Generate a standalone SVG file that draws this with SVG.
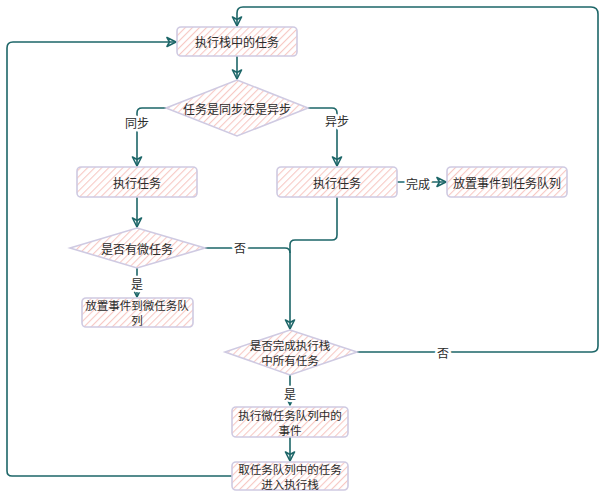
<svg xmlns="http://www.w3.org/2000/svg" width="606" height="493" viewBox="0 0 606 493">
<defs>
<pattern id="hatch" patternUnits="userSpaceOnUse" width="5" height="5" patternTransform="rotate(45)">
<rect width="5" height="5" fill="#ffffff"/>
<line x1="0" y1="0" x2="0" y2="5" stroke="#f7c9c4" stroke-width="2.2"/>
</pattern>
<marker id="arr" viewBox="0 0 12 12" refX="10" refY="6" markerWidth="12" markerHeight="12" markerUnits="userSpaceOnUse" orient="auto">
<path d="M1,1.5 L10,6 L1,10.5 L3.5,6 Z" fill="none" stroke="#1d6668" stroke-width="1.6" stroke-linejoin="round"/>
</marker>
<style>
.box{fill:url(#hatch);stroke:#cfcae2;stroke-width:1.6}
.t{font-family:"Noto Sans CJK SC","Noto Sans",sans-serif;font-size:12px;fill:#2b2b2b;text-anchor:middle;dominant-baseline:central}
.m{font-size:11.5px}
.c{fill:none;stroke:#1d6668;stroke-width:1.6}
.a{marker-end:url(#arr)}
.lbl{font-family:"Noto Sans CJK SC","Noto Sans",sans-serif;font-size:12px;fill:#2b2b2b;text-anchor:middle;dominant-baseline:central;stroke:#ffffff;stroke-width:5;paint-order:stroke;stroke-linejoin:round}
</style>
</defs>
<g id="connectors">
<path class="c a" d="M237,56 L237,79"/>
<path class="c a" d="M166,108 L142,108 Q137,108 137,113 L137,166"/>
<path class="c a" d="M308,108 L332,108 Q337,108 337,113 L337,166"/>
<path class="c a" d="M397,182 L446,182"/>
<path class="c a" d="M137,197 L137,227"/>
<path class="c a" d="M137,268 L137,297"/>
<path class="c a" d="M205,248 L285,248 Q290,248 290,253 L290,329"/>
<path class="c" d="M337,197 L337,235 Q337,240 332,240 L295,240 Q290,240 290,245 L290,253"/>
<path class="c a" d="M290,375 L290,405"/>
<path class="c a" d="M290,437 L290,461"/>
<path class="c a" d="M232,476 L12,476 Q7,476 7,471 L7,48 Q7,42 13,42 L176,42"/>
<path class="c a" d="M357,352 L592,352 Q598,352 598,346 L598,14 Q598,7 591,7 L243,7 Q237,7 237,13 L237,26"/>
<text class="lbl" x="137" y="122">同步</text>
<text class="lbl" x="337" y="120">异步</text>
<text class="lbl" x="418" y="183">完成</text>
<text class="lbl" x="137" y="283">是</text>
<text class="lbl" x="240" y="247">否</text>
<text class="lbl" x="290" y="393">是</text>
<text class="lbl" x="443" y="352">否</text>
</g>
<g id="n1"><rect class="box" x="177" y="27" width="120" height="29" rx="4"/><text class="t" x="237" y="41">执行栈中的任务</text></g>
<g id="d1"><path class="box" d="M237,80 L308,108 L237,136 L166,108 Z"/><text class="t" x="237" y="108">任务是同步还是异步</text></g>
<g id="n2"><rect class="box" x="77" y="167" width="120" height="30" rx="4"/><text class="t" x="137" y="182">执行任务</text></g>
<g id="n3"><rect class="box" x="277" y="167" width="120" height="30" rx="4"/><text class="t" x="337" y="182">执行任务</text></g>
<g id="n4"><rect class="box" x="447" y="167" width="120" height="30" rx="4"/><text class="t" x="507" y="182">放置事件到任务队列</text></g>
<g id="d2"><path class="box" d="M137,228 L205,248 L137,268 L70,248 Z"/><text class="t" x="137" y="248">是否有微任务</text></g>
<g id="n5"><rect class="box" x="82" y="298" width="111" height="29" rx="4"/><text class="t m" x="137" y="305">放置事件到微任务队</text><text class="t m" x="137" y="320">列</text></g>
<g id="d3"><path class="box" d="M290,330 L357,352 L290,375 L225,352 Z"/><text class="t m" x="290" y="344.5">是否完成执行栈</text><text class="t m" x="290" y="360">中所有任务</text></g>
<g id="n6"><rect class="box" x="232" y="407" width="116" height="30" rx="4"/><text class="t m" x="290" y="414.5">执行微任务队列中的</text><text class="t m" x="290" y="430">事件</text></g>
<g id="n7"><rect class="box" x="232" y="462" width="116" height="28" rx="4"/><text class="t m" x="290" y="468.5">取任务队列中的任务</text><text class="t m" x="290" y="484">进入执行栈</text></g>
</svg>
